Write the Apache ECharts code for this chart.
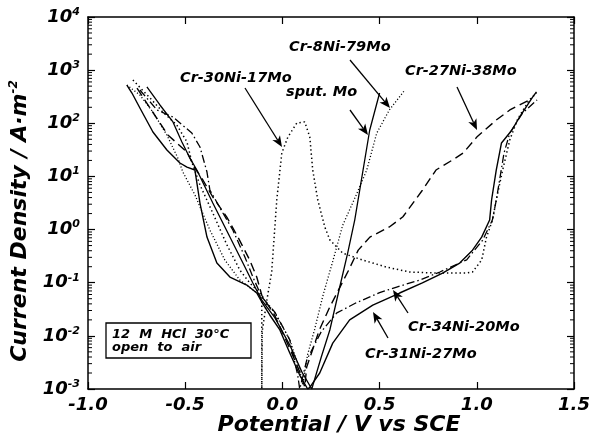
<!DOCTYPE html>
<html><head><meta charset="utf-8">
<script src="https://cdn.jsdelivr.net/npm/echarts@6/dist/echarts.min.js"></script>
<style>html,body{margin:0;padding:0;background:#fff}#c{width:593px;height:439px}</style>
</head><body><div id="c"></div><script>
const FONT = "'DejaVu Sans', sans-serif";

// ---- axis ranges / ticks ----
const xTicks = [-1.0, -0.5, 0.0, 0.5, 1.0, 1.5];
const yDecades = [-3, -2, -1, 0, 1, 2, 3, 4];

// ---- series names ----
const seriesNames = ['Cr-30Ni-17Mo', 'sput. Mo', 'Cr-8Ni-79Mo', 'Cr-27Ni-38Mo', 'Cr-34Ni-20Mo', 'Cr-31Ni-27Mo'];

// ---- data: [potential V vs SCE, current density A/m2] ----
const cr30Ni17Mo = [[-0.769,652],[-0.681,299],[-0.615,163],[-0.543,92.8],[-0.491,44.5],[-0.466,18.7],[-0.424,6.9],[-0.358,2.05],[-0.286,0.52],[-0.219,0.173],[-0.168,0.099],[-0.127,0.07],[-0.106,0.047],[-0.106,0.001],[-0.104,0.001],[-0.104,0.012],[-0.08,0.047],[-0.055,0.16],[-0.029,3.6],[-0.003,27.6],[0.028,55],[0.074,101],[0.115,106],[0.141,55],[0.156,13.2],[0.182,3.6],[0.218,1.12],[0.244,0.64],[0.31,0.36],[0.413,0.267],[0.537,0.196],[0.655,0.159],[0.794,0.152],[0.948,0.152],[0.978,0.159],[1.025,0.267],[1.05,0.72],[1.081,1.51],[1.10,3.6],[1.133,13.2],[1.17,49],[1.21,120],[1.27,274],[1.307,371]];
const sputMo = [[-0.697,482],[-0.63,221],[-0.563,106],[-0.517,44.5],[-0.476,22.2],[-0.44,13.2],[-0.358,3.16],[-0.27,0.724],[-0.203,0.235],[-0.152,0.099],[-0.106,0.047],[-0.039,0.022],[0.038,0.0067],[0.10,0.0021],[0.151,0.001],[0.156,0.001],[0.20,0.004],[0.244,0.0129],[0.295,0.083],[0.336,0.363],[0.372,1.51],[0.449,74],[0.50,371]];
const cr8Ni79Mo = [[-0.80,525],[-0.733,340],[-0.666,163],[-0.594,60],[-0.538,22.2],[-0.512,12.1],[-0.45,4.5],[-0.373,0.98],[-0.296,0.267],[-0.219,0.112],[-0.142,0.069],[-0.101,0.0515],[-0.039,0.0269],[0.038,0.0084],[0.089,0.0023],[0.105,0.0012],[0.13,0.0045],[0.165,0.0129],[0.21,0.06],[0.26,0.26],[0.31,1.2],[0.38,4.5],[0.434,13.2],[0.485,65],[0.55,178],[0.63,423]];
const cr27Ni38Mo = [[-0.748,460],[-0.681,194],[-0.589,60],[-0.491,28.8],[-0.45,14.4],[-0.409,8.57],[-0.358,4.1],[-0.286,1.72],[-0.229,0.724],[-0.168,0.267],[-0.132,0.128],[-0.106,0.058],[-0.039,0.024],[0.038,0.0058],[0.089,0.0021],[0.115,0.0011],[0.125,0.0026],[0.19,0.0129],[0.244,0.035],[0.34,0.17],[0.39,0.41],[0.45,0.72],[0.55,1.12],[0.62,1.74],[0.72,5.5],[0.79,13.2],[0.875,20.4],[0.93,27.6],[1.0,55],[1.1,115],[1.17,178],[1.27,275]];
const cr34Ni20Mo = [[-0.733,423],[-0.645,178],[-0.563,131],[-0.466,65.6],[-0.424,35.8],[-0.388,12.1],[-0.373,5.55],[-0.306,2.05],[-0.255,0.98],[-0.193,0.305],[-0.152,0.128],[-0.106,0.054],[-0.039,0.028],[0.038,0.0084],[0.079,0.0018],[0.089,0.001],[0.095,0.0012],[0.125,0.0035],[0.2,0.012],[0.28,0.027],[0.38,0.042],[0.50,0.065],[0.588,0.083],[0.706,0.112],[0.81,0.159],[0.948,0.27],[1.03,0.63],[1.08,1.51],[1.10,3.55],[1.14,27.6],[1.17,66],[1.235,155],[1.31,275]];
const cr31Ni27Mo = [[-0.80,525],[-0.774,371],[-0.733,194],[-0.666,68.6],[-0.594,31.4],[-0.527,17.9],[-0.491,15.0],[-0.45,13.2],[-0.424,3.16],[-0.388,0.724],[-0.337,0.235],[-0.27,0.128],[-0.183,0.0905],[-0.132,0.064],[-0.106,0.0433],[-0.065,0.0247],[-0.013,0.0129],[0.038,0.00475],[0.089,0.00183],[0.13,0.001],[0.141,0.00107],[0.192,0.002],[0.259,0.0073],[0.346,0.02],[0.465,0.038],[0.603,0.064],[0.72,0.099],[0.824,0.152],[0.912,0.234],[0.978,0.41],[1.025,0.72],[1.066,1.51],[1.076,3.6],[1.10,13.2],[1.127,42.6],[1.18,74],[1.22,131],[1.287,310],[1.307,390]];

const seriesData = [cr30Ni17Mo, sputMo, cr8Ni79Mo, cr27Ni38Mo, cr34Ni20Mo, cr31Ni27Mo];
const lineStyles = [
  {type:[1.4,2.8], width:1.5},
  {type:'solid', width:1.3},
  {type:[1.1,2.1], width:1.3},
  {type:[9,5], width:1.4},
  {type:[8,3,1.5,3], width:1.3},
  {type:'solid', width:1.4}
];

const chart = echarts.init(document.getElementById('c'), null, {renderer:'canvas'});
const lblStyle = {fontFamily:FONT, fontWeight:'bold', fontStyle:'italic', color:'#000'};
const axisLine = {show:true, onZero:false, lineStyle:{color:'#000', width:1.5}};

chart.setOption({
  animation:false,
  backgroundColor:'#fff',
  grid:{left:88, top:17, right:19, bottom:50, containLabel:false},
  xAxis:[
    {type:'value', min:xTicks[0], max:xTicks[xTicks.length-1], interval:0.5, position:'bottom',
     axisLine:axisLine, axisTick:{inside:true, length:7, lineStyle:{color:'#000', width:1.2}},
     axisLabel:Object.assign({fontSize:18, margin:7, formatter:v=>v.toFixed(1)}, lblStyle),
     splitLine:{show:false}},
    {type:'value', min:xTicks[0], max:xTicks[xTicks.length-1], interval:0.5, position:'top',
     axisLine:axisLine, axisTick:{inside:true, length:7, lineStyle:{color:'#000', width:1.2}},
     axisLabel:{show:false}, splitLine:{show:false}}
  ],
  yAxis:[
    {type:'log', logBase:10, min:Math.pow(10,yDecades[0]), max:Math.pow(10,yDecades[yDecades.length-1]), splitNumber:7, position:'left',
     axisLine:axisLine, axisTick:{inside:true, length:7, lineStyle:{color:'#000', width:1.2}},
     axisLabel:{margin:8, formatter:v=>'{b|10}{s|'+Math.round(Math.log10(v))+'}',
       rich:{b:Object.assign({fontSize:18}, lblStyle), s:Object.assign({fontSize:11, padding:[0,0,10,0]}, lblStyle)}},
     splitLine:{show:false}},
    {type:'log', logBase:10, min:Math.pow(10,yDecades[0]), max:Math.pow(10,yDecades[yDecades.length-1]), splitNumber:7, position:'right',
     axisLine:axisLine, axisTick:{inside:true, length:7, lineStyle:{color:'#000', width:1.2}},
     axisLabel:{show:false}, splitLine:{show:false}}
  ],
  series: seriesNames.map((n,i)=>({
    name:n, type:'line', data:seriesData[i], showSymbol:false, symbol:'none', smooth:false, clip:true,
    lineStyle:{color:'#000', width:lineStyles[i].width, type:lineStyles[i].type}
  }))
});

// ---- decorations: minor log ticks, annotations, box, axis titles ----
const g = [];
const xl = chart.convertToPixel({xAxisIndex:0}, xTicks[0]);
const xr = chart.convertToPixel({xAxisIndex:0}, xTicks[xTicks.length-1]);
for (let d = yDecades[0]; d < yDecades[yDecades.length-1]; d++) {
  for (let k = 2; k <= 9; k++) {
    const y = chart.convertToPixel({yAxisIndex:0}, k*Math.pow(10,d));
    g.push({type:'line', shape:{x1:xl, y1:y, x2:xl+4, y2:y}, style:{stroke:'#000', lineWidth:1}, silent:true});
    g.push({type:'line', shape:{x1:xr, y1:y, x2:xr-4, y2:y}, style:{stroke:'#000', lineWidth:1}, silent:true});
  }
}
function arrow(x1,y1,x2,y2){
  const dx=x2-x1, dy=y2-y1, L=Math.hypot(dx,dy), ux=dx/L, uy=dy/L, hl=11, hw=4.5;
  const bx=x2-ux*hl, by=y2-uy*hl;
  g.push({type:'line', shape:{x1:x1,y1:y1,x2:bx+ux*3,y2:by+uy*3}, style:{stroke:'#000', lineWidth:1.3}});
  g.push({type:'polygon', shape:{points:[[x2,y2],[bx-uy*hw,by+ux*hw],[bx+ux*3,by+uy*3],[bx+uy*hw,by-ux*hw]]}, style:{fill:'#000'}});
}
function label(t,x,y,size){
  g.push({type:'text', x:x, y:y, style:{text:t, fill:'#000', fontSize:size||14.5, fontFamily:FONT, fontWeight:'bold', fontStyle:'italic', align:'left', verticalAlign:'middle'}});
}
label(seriesNames[0], 180, 78);
label(seriesNames[1], 286, 92);
label(seriesNames[2], 289, 47);
label(seriesNames[3], 405, 71);
label(seriesNames[4], 408, 327);
label(seriesNames[5], 365, 354);
arrow(245,88,282,147);
arrow(350,110,368,135);
arrow(350,60,390,108);
arrow(457,87,477,130);
arrow(408,313,393,290);
arrow(388,338,373,312);

g.push({type:'rect', shape:{x:106, y:323, width:145, height:35}, style:{fill:'#fff', stroke:'#000', lineWidth:1.3}});
g.push({type:'text', x:112, y:335, style:{text:'12  M  HCl  30°C', fill:'#000', fontSize:13, fontFamily:FONT, fontStyle:'italic', fontWeight:'bold', align:'left', verticalAlign:'middle'}});
g.push({type:'text', x:112, y:348, style:{text:'open  to  air', fill:'#000', fontSize:13, fontFamily:FONT, fontStyle:'italic', fontWeight:'bold', align:'left', verticalAlign:'middle'}});

g.push({type:'text', x:339, y:425, style:{text:'Potential / V vs SCE', fill:'#000', fontSize:22, fontFamily:FONT, fontWeight:'bold', fontStyle:'italic', align:'center', verticalAlign:'middle'}});
g.push({type:'text', x:20, y:221, rotation:Math.PI/2, style:{text:'{b|Current Density / A·m}{s|-2}', align:'center', verticalAlign:'middle',
  rich:{b:{fontSize:22, fontFamily:FONT, fontWeight:'bold', fontStyle:'italic', fill:'#000'}, s:{fontSize:12, fontFamily:FONT, fontWeight:'bold', fontStyle:'italic', fill:'#000', padding:[0,0,12,0]}}}});

chart.setOption({graphic:g});
</script></body></html>
